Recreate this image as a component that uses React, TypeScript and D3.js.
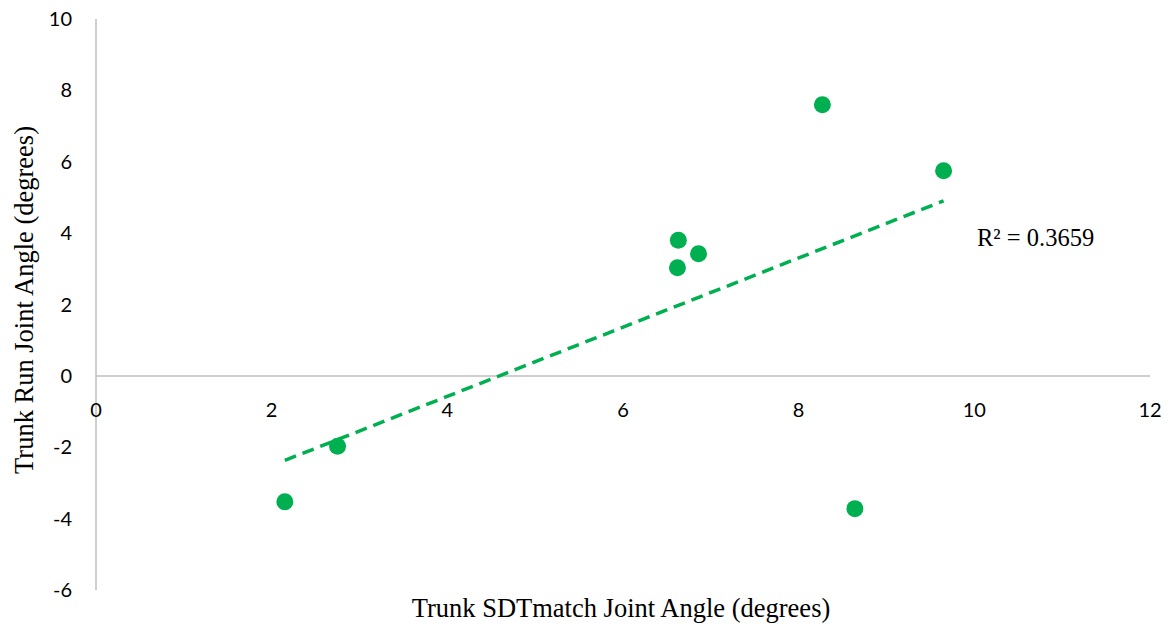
import React from "react";
import * as d3 from "d3";

const xValues = [2.15, 2.75, 6.63, 6.62, 6.86, 8.27, 9.65, 8.64];
const yValues = [-3.53, -1.97, 3.8, 3.03, 3.42, 7.6, 5.75, -3.72];
const xTicks = [0, 2, 4, 6, 8, 10, 12];
const yTicks = [-6, -4, -2, 0, 2, 4, 6, 8, 10];
const r2Label = "R² = 0.3659";
const xTitle = "Trunk SDTmatch Joint Angle (degrees)";
const yTitle = "Trunk Run Joint Angle (degrees)";

export default function App() {
  const W = 1171, H = 630;
  const x = d3.scaleLinear().domain([0, 12]).range([96, 1150]);
  const y = d3.scaleLinear().domain([-6, 10]).range([590, 19]);
  const green = "#00b050";
  const axisColor = "#bfbfbf";

  const mx = d3.mean(xValues)!;
  const my = d3.mean(yValues)!;
  let sxy = 0, sxx = 0;
  xValues.forEach((xv, i) => {
    sxy += (xv - mx) * (yValues[i] - my);
    sxx += (xv - mx) ** 2;
  });
  const slope = sxy / sxx;
  const intercept = my - slope * mx;
  const [xMin, xMax] = d3.extent(xValues) as [number, number];
  const line = d3.line<number>().x((d) => x(d)).y((d) => y(slope * d + intercept));

  const sans = "Lato, 'Open Sans', sans-serif";
  const serif = "'Liberation Serif', 'Times New Roman', serif";

  return (
    <svg width={W} height={H} style={{ position: "absolute", left: 0, top: 0, background: "#fff" }}>
      <line x1={x(0)} x2={x(0)} y1={y(10)} y2={y(-6)} stroke={axisColor} strokeWidth={1.5} />
      <line x1={x(0)} x2={x(12)} y1={y(0)} y2={y(0)} stroke={axisColor} strokeWidth={1.5} />
      {yTicks.map((t) => (
        <text key={"y" + t} x={72} y={y(t)} dy="0.35em" textAnchor="end" fontFamily={sans} fontSize={20} fill="#000">
          {t}
        </text>
      ))}
      {xTicks.map((t) => (
        <text key={"x" + t} x={x(t)} y={y(0) + 41} textAnchor="middle" fontFamily={sans} fontSize={20} fill="#000">
          {t}
        </text>
      ))}
      <path d={line([xMin, xMax]) || ""} fill="none" stroke={green} strokeWidth={3.5} strokeDasharray="12 7" />
      {xValues.map((xv, i) => (
        <circle key={i} cx={x(xv)} cy={y(yValues[i])} r={8.5} fill={green} />
      ))}
      <text x={977} y={246} fontFamily={serif} fontSize={24.5} fill="#000">{r2Label}</text>
      <text x={621} y={617} textAnchor="middle" fontFamily={serif} fontSize={26.5} fill="#000">{xTitle}</text>
      <text transform={`translate(33,300) rotate(-90)`} textAnchor="middle" fontFamily={serif} fontSize={26.5} fill="#000">{yTitle}</text>
    </svg>
  );
}
